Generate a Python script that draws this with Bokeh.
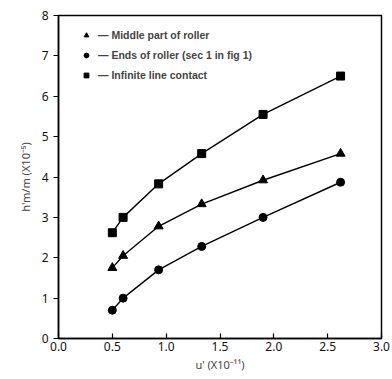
from bokeh.plotting import figure
from bokeh.models import FixedTicker, NumeralTickFormatter, Legend, LegendItem
from bokeh.embed import file_html
from bokeh.resources import INLINE

x_vals = [0.5, 0.6, 0.93, 1.33, 1.9, 2.62]
middle = [1.75, 2.05, 2.78, 3.33, 3.92, 4.58]
ends = [0.7, 1.0, 1.7, 2.28, 3.0, 3.87]
infinite = [2.62, 3.0, 3.83, 4.58, 5.55, 6.5]
labels = ["Middle part of roller", "Ends of roller (sec 1 in fig 1)", "Infinite line contact"]
x_ticks = [0.0, 0.5, 1.0, 1.5, 2.0, 2.5, 3.0]
y_ticks = [0, 1, 2, 3, 4, 5, 6, 7, 8]

W, H = 390, 377
p = figure(width=W, height=H, x_range=(0, 3), y_range=(0, 8),
           output_backend="svg", toolbar_location=None,
           min_border_left=58, min_border_right=W - 381, min_border_top=15,
           min_border_bottom=H - 338)
p.xgrid.visible = False
p.ygrid.visible = False
p.outline_line_color = "black"
p.outline_line_width = 1.5
p.outline_line_alpha = 1

FONT = "Noto Sans"
for ax in (p.xaxis[0], p.yaxis[0]):
    ax.axis_line_width = 1.5
    ax.major_tick_line_width = 1.2
    ax.minor_tick_line_color = None
    ax.major_label_text_font = FONT
    ax.major_label_text_font_size = "12px"
    ax.major_label_text_color = "#111111"
    ax.axis_label_text_font = FONT
    ax.axis_label_text_font_size = "11px"
    ax.axis_label_text_font_style = "normal"

p.xaxis.ticker = FixedTicker(ticks=x_ticks)
p.yaxis.ticker = FixedTicker(ticks=y_ticks)
p.xaxis.formatter = NumeralTickFormatter(format="0.0")
p.xaxis.major_tick_in = 5
p.xaxis.major_tick_out = 0
p.yaxis.major_tick_in = 0
p.yaxis.major_tick_out = 5
p.xaxis.major_label_standoff = 3
p.xaxis.axis_label = "u' (X10⁻¹¹)"
p.yaxis.axis_label = "h'm/m (X10⁻⁵)"
p.xaxis.axis_label_standoff = 3
p.yaxis.axis_label_standoff = 6

series = [(middle, "triangle", 9), (ends, "circle", 8), (infinite, "square", 8)]
items = []
for (ys, marker, sz), lab in zip(series, labels):
    p.line(x_vals, ys, line_color="black", line_width=1.4)
    r = p.scatter(x_vals, ys, marker=marker, size=sz, fill_color="black", line_color="black")
    items.append(LegendItem(label="— " + lab, renderers=[r]))

legend = Legend(items=items, location=(22, 256), margin=0, padding=5,
                glyph_width=12, glyph_height=14, label_height=14, spacing=6,
                label_standoff=6, label_text_font="Liberation Sans",
                label_text_font_size="10.5px", label_text_font_style="bold",
                background_fill_alpha=0, border_line_color=None)
p.add_layout(legend)

open("out.html", "w").write(file_html(p, INLINE))
